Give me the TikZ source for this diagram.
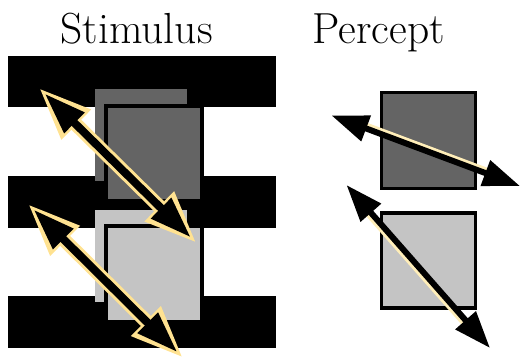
\documentclass[tikz,border=0pt]{standalone}
\usepackage{xcolor}
\usepackage{tikz}
\usetikzlibrary{arrows.meta}

\definecolor{darkpatch}{RGB}{100,100,100}
\definecolor{lightpatch}{RGB}{196,196,196}
\definecolor{glow}{RGB}{255,226,145}
\definecolor{paleglow}{RGB}{255,238,185}

\tikzset{
    title/.style={anchor=base,inner sep=0pt,font=\fontsize{24.75}{30}\selectfont},
    glowouter/.style={draw=glow,line width=0.28cm,
        {Triangle[length=1.06cm,width=0.76cm]}-{Triangle[length=1.06cm,width=0.76cm]}},
    glowinner/.style={draw=black,line width=0.16cm,shorten <=0.17cm,shorten >=0.17cm,
        {Triangle[length=0.84cm,width=0.54cm]}-{Triangle[length=0.84cm,width=0.54cm]}},
    plainarrow/.style={draw=black,line width=0.12cm,
        {Triangle[length=0.74cm,width=0.52cm]}-{Triangle[length=0.74cm,width=0.52cm]}},
    edgeline/.style={draw=paleglow,line width=0.1cm,shorten <=0.7cm,shorten >=0.7cm}
}

\begin{document}
\begin{tikzpicture}[x=0.02cm,y=-0.02cm]
    \useasboundingbox (0,0) rectangle (521,360);

    \node[title] (stimtitle) at (136.7,43) {Stimulus};
    \node[title] (perctitle) at (378.5,43) {Percept};

    % stimulus: bars and patches
    \fill[black] (8,55.5) rectangle (276,107);
    \fill[black] (8,176) rectangle (276,228);
    \fill[black] (8,296) rectangle (276,348);

    \fill[darkpatch] (94.7,89.3) rectangle (186.7,181);
    \fill[lightpatch] (94.7,210) rectangle (186.7,301.7);
    \draw[line width=3.5pt*0.7,fill=darkpatch] (106,106) rectangle (202,201);
    \draw[line width=3.5pt*0.7,fill=lightpatch] (106,226) rectangle (202,322);

    \coordinate (sa1) at (38.5,87.5);
    \coordinate (sa2) at (197,243.5);
    \coordinate (sb1) at (27.5,203.5);
    \coordinate (sb2) at (183.5,358.3);

    \draw[glowouter] (sa1) -- (sa2);
    \draw[glowinner] (sa1) -- (sa2);
    \draw[glowouter] (sb1) -- (sb2);
    \draw[glowinner] (sb1) -- (sb2);

    % percept
    \draw[line width=3pt*0.7,fill=darkpatch] (381.5,92.5) rectangle (475.5,188.5);
    \draw[line width=3pt*0.7,fill=lightpatch] (381.5,213) rectangle (475.5,308);

    \coordinate (pa1) at (331.5,115.5);
    \coordinate (pa2) at (520,186);
    \coordinate (pb1) at (346.5,185);
    \coordinate (pb2) at (490,348);

    \draw[edgeline,transform canvas={shift={(0.022cm,0.06cm)}}] (pa1) -- (pa2);
    \draw[plainarrow] (pa1) -- (pa2);
    \draw[edgeline,transform canvas={shift={(-0.05cm,-0.045cm)}}] (pb1) -- (pb2);
    \draw[plainarrow] (pb1) -- (pb2);
\end{tikzpicture}
\end{document}
